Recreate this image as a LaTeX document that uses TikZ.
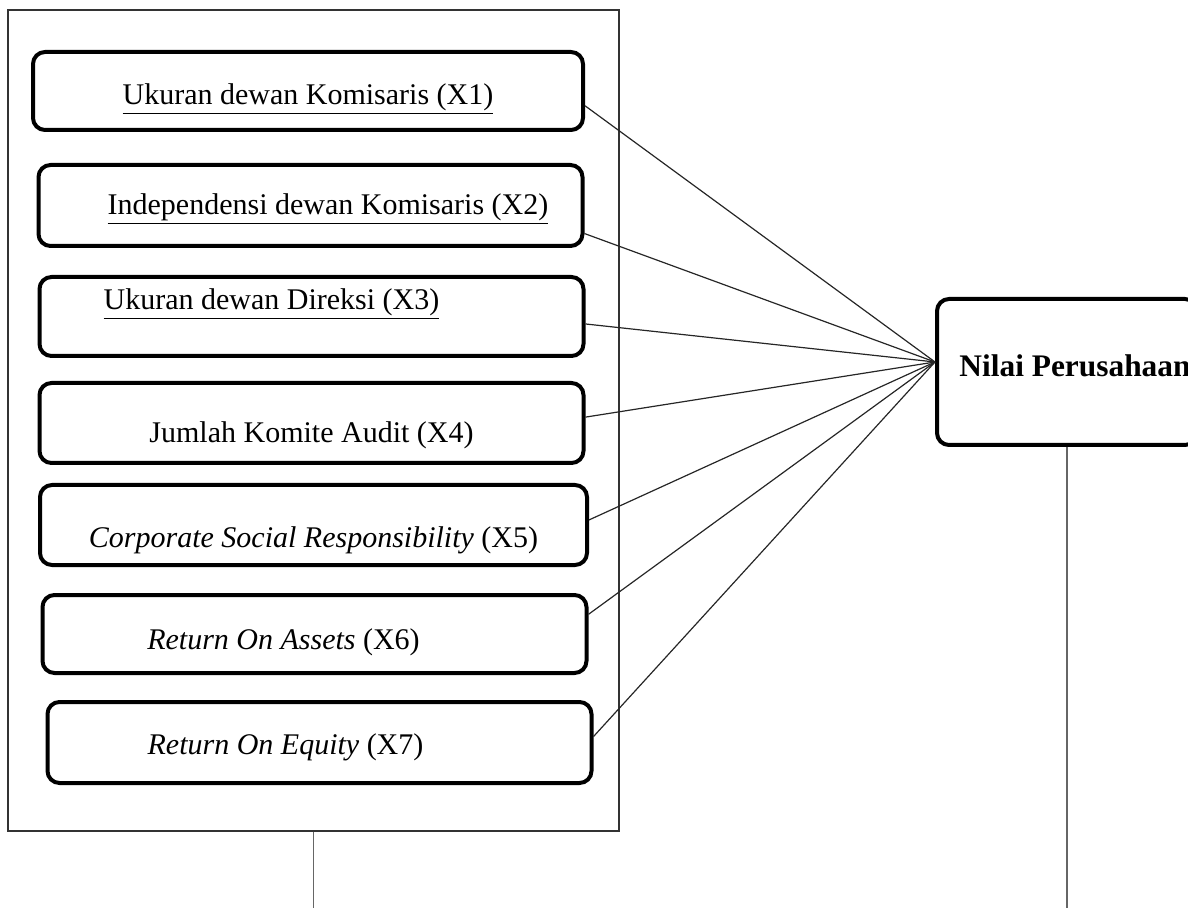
\documentclass[tikz,border=0pt]{standalone}
\usepackage{fontspec}
\setmainfont{Liberation Serif}
\usepackage{tikz}
\usetikzlibrary{calc}
\newcommand{\lowertext}[2]{\raisebox{-#1}[\height][\depth]{#2}}

\begin{document}
\begin{tikzpicture}[x=0.5pt,y=-0.5pt,
  every node/.style={font=\fontsize{15pt}{18pt}\selectfont,align=center,inner sep=0pt},
  var/.style={draw=black,line width=2pt,rounded corners=6pt,minimum width=272pt,minimum height=40pt},
  frame/.style={draw=black!80,line width=0.8pt,minimum width=305.5pt,minimum height=410.5pt},
  link/.style={draw=black!85,line width=0.6pt},
  stub/.style={draw=black!60,line width=0.8pt}]
\useasboundingbox (0,0) rectangle (1188,908);
\clip (0,0) rectangle (1188,908);
\node[frame] (panel) at (313.5,420.5) {};
\node[var,minimum width=275pt,minimum height=39pt] (x1) at (308,91) {\lowertext{4pt}{\underline{Ukuran dewan Komisaris (X1)}}};
\node[var,minimum height=40.5pt] (x2) at (310.5,205.5) {\lowertext{2pt}{\hspace*{17.5pt}\underline{Independensi dewan Komisaris (X2)}}};
\node[var,minimum height=39.5pt] (x3) at (311.5,316.5) {\lowertext{-6pt}{\underline{Ukuran dewan Direksi (X3)}\hspace*{40pt}}};
\node[var] (x4) at (311.5,423) {\lowertext{6pt}{Jumlah Komite Audit (X4)}};
\node[var,minimum width=273.5pt] (x5) at (313.5,525) {\lowertext{7.5pt}{\textit{Corporate Social Responsibility} (X5)}};
\node[var,minimum height=39pt] (x6) at (314.5,634) {\lowertext{4pt}{\textit{Return On Assets} (X6)\hspace*{31pt}}};
\node[var,minimum height=40.5pt] (x7) at (319.5,742.5) {\lowertext{2.5pt}{\textit{Return On Equity} (X7)\hspace*{34pt}}};
\node[var,minimum width=130pt,minimum height=73pt,font=\fontsize{15.7pt}{18pt}\selectfont\bfseries] (nilai) at (1067,372) {\lowertext{-3pt}{\hspace*{8pt}Nilai Perusahaan}};
\coordinate (hub) at ($(nilai.west)+(0,-10)$);
\foreach \i/\f in {1/.32,2/.17,3/.41,4/.57,5/.56,6/.74,7/.57}
  \draw[link] ($(x\i.south east)!\f!(x\i.north east)$) -- (hub);
\coordinate (endL) at (312,908);
\coordinate (endR) at (1067,908);
\draw[stub] (panel.south) -- (panel.south |- endL);
\draw[stub] (nilai.south) -- (endR);
\end{tikzpicture}
\end{document}
